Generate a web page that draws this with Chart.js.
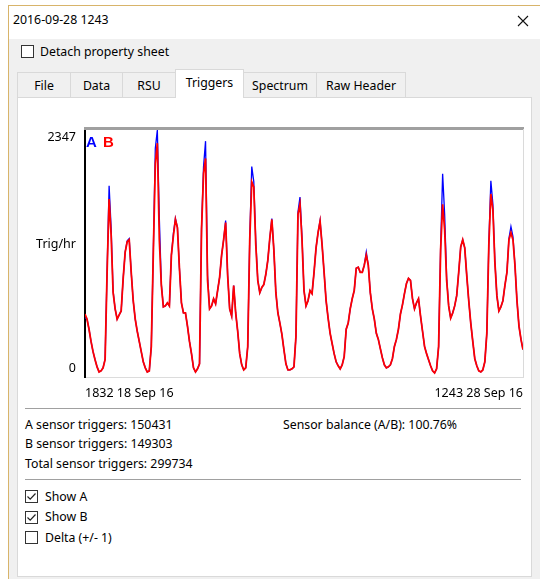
<!DOCTYPE html>
<html>
<head>
<meta charset="utf-8">
<script src="https://cdn.jsdelivr.net/npm/chart.js@4.4.0/dist/chart.umd.min.js"></script>
<style>
body{margin:0;width:540px;height:579px;overflow:hidden;background:#fff;position:relative;
  font-family:"Noto Sans",sans-serif;font-size:12.3px;color:#000}
.a{position:absolute;white-space:nowrap;line-height:16px;height:16px}
.win{position:absolute;left:8px;top:5px;width:540px;height:580px;border-left:1px solid #d8b46a;border-top:1px solid #d8b46a;background:#f0f0f0}
.tbar{position:absolute;left:9px;top:6px;width:540px;height:33px;background:#fff}
.tab{position:absolute;top:72px;height:25px;border:1px solid #d9d9d9;border-bottom:none;background:#f0f0f0;box-sizing:border-box;text-align:center;line-height:25px}
.tab.sel{top:69px;height:29px;background:#fff;line-height:26px;z-index:2}
.page{position:absolute;left:17px;top:97px;width:515px;height:480px;border:1px solid #d9d9d9;box-sizing:border-box;background:#fff}
.sep{position:absolute;left:25px;width:496px;height:1px;background:#a0a0a0}
.box{position:absolute;width:13px;height:13px}
</style>
</head>
<body>
<div class="win"></div>
<div class="tbar"></div>
<div class="a" style="left:13px;top:12px">2016-09-28 1243</div>
<svg class="box" style="left:517px;top:15px;width:12px;height:12px" viewBox="0 0 12 12"><path d="M1 1L11 11M11 1L1 11" stroke="#111" stroke-width="1.1"/></svg>

<svg class="box" style="left:21px;top:45px" viewBox="0 0 13 13"><rect x="0.5" y="0.5" width="12" height="12" fill="#fff" stroke="#333"/></svg>
<div class="a" style="left:40px;top:44px">Detach property sheet</div>

<div class="tab" style="left:17px;width:54px">File</div>
<div class="tab" style="left:70px;width:53px">Data</div>
<div class="tab" style="left:122px;width:54px">RSU</div>
<div class="tab sel" style="left:175px;width:69px">Triggers</div>
<div class="tab" style="left:243px;width:74px">Spectrum</div>
<div class="tab" style="left:316px;width:90px">Raw Header</div>
<div class="page"></div>

<div style="position:absolute;left:17px;top:98px;width:515px;height:307px"><canvas id="trig"></canvas></div>
<div class="a" style="left:86px;top:133px;font:bold 15px 'Liberation Sans',sans-serif;color:#0000ff">A</div>
<div class="a" style="left:103px;top:133px;font:bold 15px 'Liberation Sans',sans-serif;color:#ff0000">B</div>

<div class="sep" style="top:408px"></div>
<div class="a" style="left:25px;top:417px">A sensor triggers: 150431</div>
<div class="a" style="left:283px;top:417px">Sensor balance (A/B): 100.76%</div>
<div class="a" style="left:25px;top:436px">B sensor triggers: 149303</div>
<div class="a" style="left:25px;top:456px">Total sensor triggers: 299734</div>
<div class="sep" style="top:479px"></div>

<svg class="box" style="left:25px;top:490px" viewBox="0 0 13 13"><rect x="0.5" y="0.5" width="12" height="12" fill="#fff" stroke="#333"/><path d="M2.5 6.5L5.2 9.2L10.5 3.5" fill="none" stroke="#222" stroke-width="1.2"/></svg>
<div class="a" style="left:45px;top:489px">Show A</div>
<svg class="box" style="left:25px;top:511px" viewBox="0 0 13 13"><rect x="0.5" y="0.5" width="12" height="12" fill="#fff" stroke="#333"/><path d="M2.5 6.5L5.2 9.2L10.5 3.5" fill="none" stroke="#222" stroke-width="1.2"/></svg>
<div class="a" style="left:45px;top:509px">Show B</div>
<svg class="box" style="left:25px;top:531px" viewBox="0 0 13 13"><rect x="0.5" y="0.5" width="12" height="12" fill="#fff" stroke="#333"/></svg>
<div class="a" style="left:45px;top:530px">Delta (+/- 1)</div>

<script>
// hourly trigger rates, 1832 18 Sep 16 .. 1243 28 Sep 16
const sensorA = [560,548,452,337,240,164,96,48,58,87,
170,1010,1809,1414,810,645,548,587,625,933,
1183,1290,1310,991,722,548,433,337,240,144,
87,48,58,289,1190,2165,2338,1500,880,664,
673,702,673,1154,1360,1500,1414,1029,702,606,
606,481,337,221,87,48,77,125,1410,1991,
2232,960,645,673,741,693,818,943,1154,1299,
1480,962,645,577,866,606,433,221,115,67,
87,289,1320,1991,1850,1290,914,798,847,875,
972,1106,1318,1500,1203,798,606,510,404,260,
125,67,67,77,96,385,1560,1703,1330,818,
673,722,818,789,991,1222,1366,1480,1251,991,
722,558,414,317,221,144,106,77,115,192,
452,510,645,741,818,1029,1039,991,991,1058,
1183,1058,798,645,548,414,356,269,183,115,
87,96,115,173,289,356,452,596,683,789,
885,933,914,741,645,702,741,577,433,289,
221,164,106,58,38,77,289,1220,1924,1540,
940,673,558,606,673,770,991,1231,1299,1222,
962,722,510,337,173,106,58,48,67,144,
414,1270,1857,1640,1100,770,625,664,722,866,
991,1310,1424,1330,1058,722,481,356,260];

const sensorB = [596,548,452,337,240,164,96,48,58,87,
164,991,1684,1347,798,645,548,587,625,933,
1183,1280,1299,991,722,548,433,337,240,144,
87,48,58,289,1174,2020,2213,1299,866,664,
673,702,673,1154,1337,1491,1414,1029,702,606,
606,481,337,221,87,48,77,125,1395,1924,
2068,914,645,673,741,693,818,943,1154,1299,
1462,962,645,577,866,606,433,221,115,67,
87,289,1299,1847,1799,1251,914,798,847,875,
972,1106,1318,1491,1203,798,606,510,404,260,
125,67,67,77,96,385,1539,1635,1299,818,
673,722,818,789,991,1222,1366,1472,1251,991,
722,558,414,317,221,144,106,77,115,192,
452,510,645,741,818,1029,1039,991,991,1058,
1154,1058,798,645,548,414,356,269,183,115,
87,96,115,173,289,356,452,596,683,789,
885,933,914,741,645,702,741,577,433,289,
221,164,106,58,38,77,289,1203,1635,1395,
914,673,558,606,673,770,991,1231,1299,1222,
962,722,510,337,173,106,58,48,67,144,
414,1251,1732,1587,1087,770,625,664,722,866,
991,1299,1366,1299,1058,722,481,356,260];

const yMax = 2347;
const yTickValues = [0, yMax / 2, yMax];
const yTickLabels = ['0', 'Trig/hr', '2347'];
const xTickLabels = ['1832 18 Sep 16', '1243 28 Sep 16'];

const last = sensorB.length - 1;
const font = {family: "'Noto Sans', sans-serif", size: 12.5, lineHeight: 1.35};

// grey frame on top and right of the plot, like the original control
const frame = {
	id: 'frame',
	beforeDatasetsDraw(chart) {
		const {ctx, chartArea: a} = chart;
		ctx.save();
		ctx.fillStyle = '#a0a0a0';
		ctx.fillRect(a.left - 1, a.top - 2, a.right - a.left + 2, 3);
		ctx.fillStyle = '#dadada';
		ctx.fillRect(a.right, a.top, 1, a.bottom - a.top);
		ctx.restore();
	}
};

new Chart(document.getElementById('trig'), {
	type: 'line',
	data: {
		datasets: [
			{label: 'A', data: sensorA.map((v, i) => ({x: i, y: v})), borderColor: '#0000ff', borderWidth: 1.3, order: 2},
			{label: 'B', data: sensorB.map((v, i) => ({x: i, y: v})), borderColor: '#ff0000', borderWidth: 1.8, order: 1},
		]
	},
	options: {
		responsive: true,
		maintainAspectRatio: false,
		animation: false,
		events: [],
		layout: {padding: {top: 31, right: 9, bottom: 4, left: 0}},
		elements: {
			line: {tension: 0},
			point: {radius: 0}
		},
		plugins: {legend: {display: false}, tooltip: {enabled: false}},
		scales: {
			x: {
				type: 'linear', min: 0, max: last,
				afterBuildTicks: s => { s.ticks = [{value: 0}, {value: last}]; },
				afterFit: s => { s.height = 24; },
				grid: {display: false, drawTicks: false},
				border: {color: '#dcdcdc', width: 1},
				ticks: {align: 'inner', maxRotation: 0, padding: 8, color: '#000', font,
					callback: (v, i) => xTickLabels[i]}
			},
			y: {
				min: 0, max: yMax,
				afterBuildTicks: s => { s.ticks = yTickValues.map(v => ({value: v})); },
				afterFit: s => { s.width = 68; },
				grid: {display: false, drawTicks: false},
				border: {color: '#000', width: 2},
				ticks: {padding: 9, color: '#000', font,
					callback: (v, i) => i === 2 ? ['', yTickLabels[i]] : [yTickLabels[i], '']}
			}
		}
	},
	plugins: [frame]
});
</script>
</body>
</html>
